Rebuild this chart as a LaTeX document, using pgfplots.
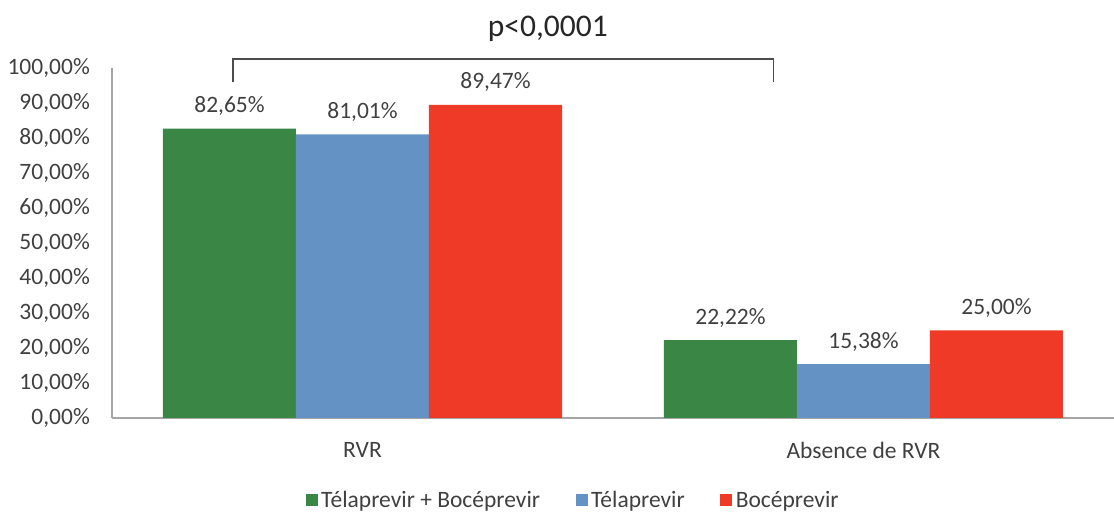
\documentclass[border=0pt]{standalone}
\usepackage{fontspec}
\setmainfont{Carlito}
\usepackage{pgfplots}
\pgfplotsset{compat=1.18}
\definecolor{cgreen}{RGB}{58,134,68}
\definecolor{cblue}{RGB}{101,146,196}
\definecolor{cred}{RGB}{238,58,38}
\definecolor{axgray}{RGB}{165,165,165}
\definecolor{txt}{RGB}{64,64,64}
\begin{document}
\begin{tikzpicture}[x=1pt,y=1pt]
\path[use as bounding box] (0,0) rectangle (1114,513);
\begin{axis}[
  at={(112pt,95pt)}, anchor=south west,
  scale only axis, width=1002pt, height=350pt,
  ybar=0pt, bar width=133pt,
  xmin=-0.5, xmax=1.5, ymin=0, ymax=100,
  xtick={0,1}, xticklabels={RVR, Absence de RVR},
  ytick={0,10,...,100},
  yticklabel={\pgfmathprintnumber[fixed,fixed zerofill,precision=2,use comma,assume math mode=true]{\tick}\%},
  axis x line=bottom, axis y line=left,
  axis line style={draw=axgray, line width=1.3pt, -},
  major tick length=0pt,
  tick label style={font=\fontsize{23.5}{28}\selectfont, text=txt, inner sep=0pt},
  yticklabel style={xshift=-22pt},
  xticklabel style={anchor=north, yshift=-24pt},
  clip=false,
  nodes near coords={\pgfmathprintnumber[fixed,fixed zerofill,precision=2,use comma,assume math mode=true]{\pgfplotspointmeta}\%},
  every node near coord/.append style={anchor=base, inner sep=0pt, yshift=16pt, font=\fontsize{23.5}{28}\selectfont, text=txt},
  legend columns=3,
  legend style={draw=none, fill=none, at={(rel axis cs:0.461,-0.234)}, anchor=center,
    font=\fontsize{23.5}{28}\selectfont, text=txt,
    nodes={inner sep=3.5pt},
    /tikz/every even column/.append style={column sep=32pt}},
  legend image code/.code={\fill[#1,draw=none] (0pt,-6pt) rectangle (12pt,6pt);},
]
\addplot[fill=cgreen, draw=none] coordinates {(0,82.65) (1,22.22)};
\addplot[fill=cblue, draw=none] coordinates {(0,81.01) (1,15.38)};
\addplot[fill=cred, draw=none] coordinates {(0,89.47) (1,25.00)};
\legend{Télaprevir + Bocéprevir, Télaprevir, Bocéprevir}
\draw[black!70, line width=1.3pt] (axis cs:-0.2585,96.0) |- (axis cs:0.821,102.6) -- (axis cs:0.821,96.0);
\node[anchor=base, inner sep=0pt, font=\fontsize{31.5}{38}\selectfont, text=black!85] at (axis cs:0.370,108.9) {p<0,0001};
\end{axis}
\end{tikzpicture}
\end{document}
